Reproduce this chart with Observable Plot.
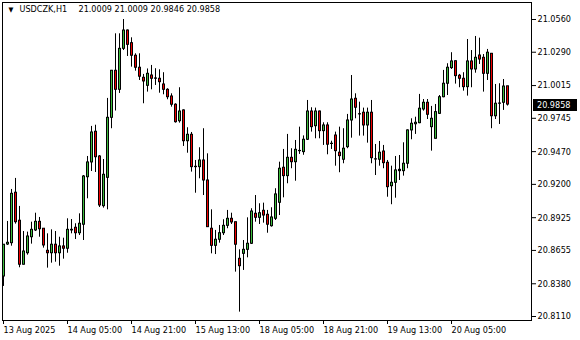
<!DOCTYPE html>
<html><head><meta charset="utf-8">
<script src="https://cdn.jsdelivr.net/npm/d3@7"></script>
<script src="https://cdn.jsdelivr.net/npm/@observablehq/plot@0.6"></script>
<style>html,body{margin:0;padding:0;background:#fff;}</style>
</head><body><div id="chart"></div>
<script>
const symbolName = "USDCZK,H1";
const headerValues = "21.0009 21.0009 20.9846 20.9858";
const open = [
20.8440,20.8704,20.8715,20.9131,20.8900,20.8537,20.8632,20.8764,20.8820,20.8891,
20.8834,20.8652,20.8632,20.8702,20.8632,20.8688,20.8669,20.8820,20.8842,20.8797,
20.8867,20.9259,20.9381,20.9634,20.9430,20.9020,20.9254,20.9749,21.0137,20.9980,
21.0318,21.0469,21.0365,21.0261,21.0162,21.0079,21.0013,21.0098,21.0074,21.0071,
21.0024,20.9980,20.9925,20.9857,20.9721,20.9810,20.9556,20.9609,20.9345,20.9342,
20.9397,20.9232,20.8834,20.8693,20.8743,20.8797,20.8858,20.8916,20.8888,20.8586,
20.8627,20.8660,20.8710,20.8957,20.8924,20.8982,20.8949,20.8855,20.8916,20.9048,
20.9337,20.9268,20.9419,20.9383,20.9476,20.9466,20.9568,20.9801,20.9680,20.9801,
20.9639,20.9686,20.9535,20.9603,20.9461,20.9403,20.9507,20.9727,20.9906,20.9779,
20.9791,20.9686,20.9791,20.9407,20.9403,20.9471,20.9378,20.9185,20.9213,20.9309,
20.9309,20.9370,20.9645,20.9696,20.9705,20.9818,20.9873,20.9672,20.9576,20.9782,
20.9919,21.0030,21.0159,21.0216,21.0096,21.0071,21.0002,21.0214,21.0148,21.0263,
21.0244,21.0112,21.0277,20.9762,20.9865,20.9873,21.0009];
const high = [
20.8704,20.8894,20.9158,20.9249,20.9018,20.8811,20.8806,20.8888,20.8962,20.8927,
20.8836,20.8792,20.8825,20.8811,20.8764,20.8756,20.8916,20.8910,20.8875,20.8957,
20.9273,20.9430,20.9678,20.9688,20.9438,20.9405,20.9909,21.0140,21.0442,21.0442,
21.0560,21.0474,21.0409,21.0277,21.0277,21.0107,21.0152,21.0181,21.0154,21.0145,
21.0121,20.9989,20.9947,20.9865,20.9997,20.9815,20.9667,20.9628,20.9397,20.9502,
20.9659,20.9452,20.8990,20.8820,20.8861,20.8908,20.8985,20.8962,20.8888,20.8660,
20.8737,20.8924,20.8999,20.9108,20.9040,20.9045,20.8985,20.9007,20.9164,20.9383,
20.9488,20.9612,20.9494,20.9562,20.9672,20.9600,20.9892,20.9832,20.9829,20.9805,
20.9708,20.9708,20.9556,20.9631,20.9672,20.9659,20.9777,21.0098,20.9947,20.9878,
20.9829,20.9829,20.9892,20.9529,20.9554,20.9521,20.9397,20.9350,20.9430,20.9438,
20.9543,20.9650,20.9741,20.9754,20.9942,20.9900,20.9900,20.9843,20.9859,20.9933,
21.0140,21.0195,21.0286,21.0218,21.0107,21.0121,21.0395,21.0304,21.0420,21.0406,
21.0271,21.0313,21.0280,21.0024,21.0030,21.0065,21.0009];
const low = [
20.8358,20.8696,20.8690,20.8872,20.8512,20.8535,20.8616,20.8707,20.8811,20.8764,
20.8674,20.8509,20.8550,20.8558,20.8525,20.8583,20.8632,20.8792,20.8745,20.8778,
20.8737,20.9081,20.9306,20.9298,20.9009,20.9004,20.8990,20.9659,20.9805,20.9950,
21.0304,21.0255,21.0167,21.0134,21.0057,20.9865,20.9961,20.9980,21.0016,20.9952,
20.9939,20.9898,20.9837,20.9705,20.9705,20.9513,20.9457,20.9301,20.9127,20.9246,
20.9108,20.8844,20.8627,20.8621,20.8715,20.8778,20.8834,20.8869,20.8476,20.8146,
20.8490,20.8594,20.8704,20.8888,20.8869,20.8880,20.8797,20.8847,20.8902,20.8943,
20.9089,20.9205,20.9329,20.9226,20.9447,20.9440,20.9562,20.9631,20.9576,20.9576,
20.9521,20.9444,20.9488,20.9350,20.9296,20.9370,20.9494,20.9581,20.9741,20.9598,
20.9598,20.9540,20.9370,20.9273,20.9350,20.9329,20.9094,20.9032,20.9086,20.9232,
20.9268,20.9329,20.9568,20.9612,20.9700,20.9804,20.9735,20.9474,20.9574,20.9777,
20.9914,20.9933,21.0148,21.0027,20.9997,20.9969,20.9928,20.9997,21.0117,21.0189,
20.9961,21.0057,20.9659,20.9735,20.9694,20.9810,20.9846];
const close = [
20.8702,20.8718,20.9122,20.8888,20.8537,20.8646,20.8770,20.8825,20.8891,20.8830,
20.8696,20.8632,20.8702,20.8632,20.8688,20.8669,20.8825,20.8825,20.8797,20.8875,
20.9265,20.9381,20.9628,20.9424,20.9026,20.9279,20.9749,21.0137,20.9980,21.0318,
21.0469,21.0351,21.0261,21.0162,21.0088,21.0049,21.0112,21.0071,21.0071,21.0043,
20.9980,20.9919,20.9857,20.9713,20.9801,20.9556,20.9609,20.9342,20.9342,20.9397,
20.9232,20.8847,20.8693,20.8743,20.8797,20.8858,20.8916,20.8886,20.8702,20.8525,
20.8660,20.8710,20.8976,20.8924,20.8962,20.8943,20.8867,20.8927,20.9117,20.9329,
20.9268,20.9419,20.9383,20.9485,20.9474,20.9568,20.9801,20.9672,20.9801,20.9639,
20.9686,20.9527,20.9533,20.9474,20.9433,20.9494,20.9727,20.9900,20.9832,20.9777,
20.9686,20.9791,20.9416,20.9405,20.9461,20.9375,20.9177,20.9213,20.9315,20.9320,
20.9370,20.9645,20.9700,20.9708,20.9824,20.9873,20.9774,20.9741,20.9796,20.9919,
21.0030,21.0162,21.0214,21.0093,21.0071,21.0002,21.0214,21.0148,21.0244,21.0230,
21.0112,21.0286,20.9762,20.9865,20.9867,21.0007,20.9858];
const timeTicks = [0, 16, 32, 48, 64, 80, 96, 112];
const timeLabels = ["13 Aug 2025", "14 Aug 05:00", "14 Aug 21:00", "15 Aug 13:00", "18 Aug 05:00", "18 Aug 21:00", "19 Aug 13:00", "20 Aug 05:00"];
const priceTicks = [21.0560, 21.0290, 21.0015, 20.9745, 20.9470, 20.9200, 20.8925, 20.8655, 20.8380, 20.8110];
const lastPrice = 20.9858;

const bars = open.map((o, i) => ({i, open: o, high: high[i], low: low[i], close: close[i]}));
const FONT = "'DejaVu Sans Condensed','DejaVu Sans',sans-serif";
const bodyTop = d => Math.max(d.open, d.close);
const bodyBottom = d => Math.min(d.open, d.close);
const hasFill = d => Math.abs(d.open - d.close) > 0.0012;

const plot = Plot.plot({
  width: 580, height: 340,
  marginLeft: 0, marginRight: 49, marginTop: 0, marginBottom: 20,
  style: {fontFamily: FONT, fontSize: "9px", background: "#fff", color: "#000"},
  x: {type: "linear", domain: [0, 126], range: [3, 507]},
  y: {type: "linear", domain: [20.8110, 21.0560], range: [316, 19]},
  marks: [
    Plot.frame({stroke: "#000", insetLeft: 2, insetTop: 2}),
    // wicks
    Plot.ruleX(bars, {x: "i", y1: "high", y2: "low", stroke: "#000", strokeWidth: 1}),
    // body outlines (3 px wide, black)
    Plot.ruleX(bars, {x: "i", y1: bodyTop, y2: bodyBottom, stroke: "#000", strokeWidth: 3, insetTop: -0.5, insetBottom: -0.5}),
    // body fills
    Plot.ruleX(bars, {filter: d => d.close >= d.open && hasFill(d), x: "i", y1: bodyTop, y2: bodyBottom, stroke: "#3cbc3c", strokeWidth: 1, insetTop: 0.5, insetBottom: 0.5}),
    Plot.ruleX(bars, {filter: d => d.close < d.open && hasFill(d), x: "i", y1: bodyTop, y2: bodyBottom, stroke: "#f00000", strokeWidth: 1, insetTop: 0.5, insetBottom: 0.5}),
    Plot.axisY({anchor: "right", ticks: priceTicks, tickFormat: d => d.toFixed(4), tickSize: 4, tickPadding: 2, label: null}),
    Plot.axisX({anchor: "bottom", ticks: timeTicks, tickFormat: i => timeLabels[timeTicks.indexOf(i)], tickSize: 4, tickPadding: 2, textAnchor: "start", label: null}),
    Plot.text([symbolName], {frameAnchor: "top-left", dx: 19, dy: 5, textAnchor: "start", lineAnchor: "top", fill: "#000"}),
    Plot.text([headerValues], {frameAnchor: "top-left", dx: 78, dy: 5, textAnchor: "start", lineAnchor: "top", fill: "#000"}),
    Plot.text(["\u25BC"], {frameAnchor: "top-left", dx: 8, dy: 7, fontSize: 7, lineAnchor: "top", fill: "#000"})
  ]
});

const ys = plot.scale("y");
const yy = ys.apply(lastPrice) + 0.5;
const g = d3.select(plot).append("g");
g.append("rect").attr("x", 533).attr("y", Math.round(yy) - 6).attr("width", 44).attr("height", 12).attr("fill", "#000");
g.append("text").attr("x", 537).attr("y", yy).attr("dy", "0.35em").attr("fill", "#fff")
  .attr("text-anchor", "start")
  .style("font-family", FONT).style("font-size", "9px").text(lastPrice.toFixed(4));

document.getElementById("chart").appendChild(plot);
</script>
</body></html>
